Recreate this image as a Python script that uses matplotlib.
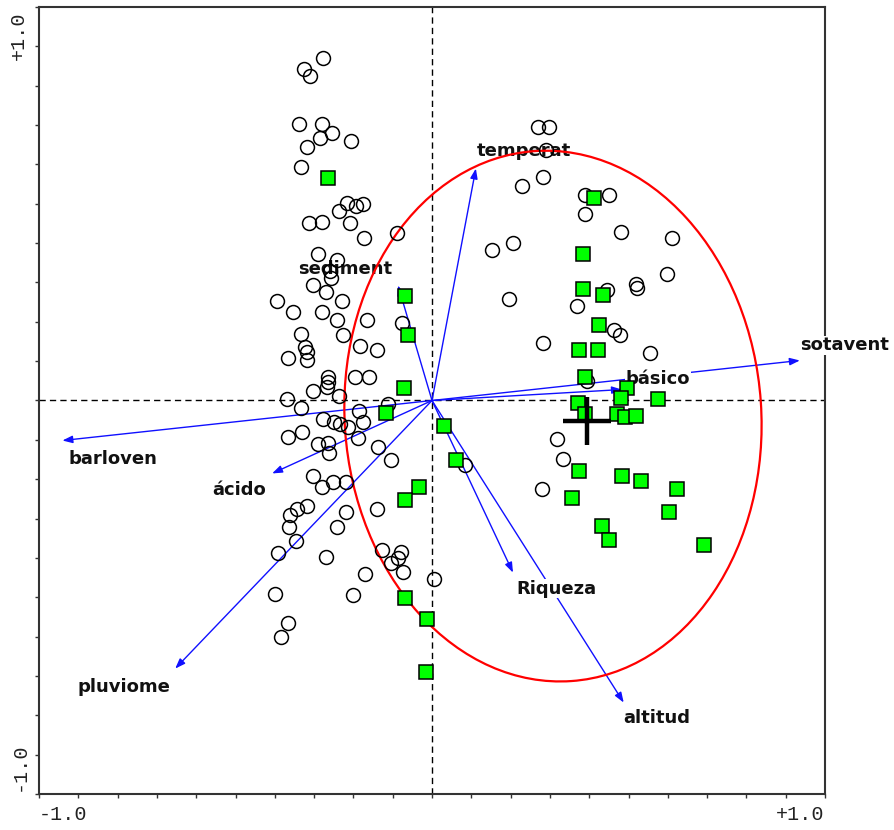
import matplotlib
matplotlib.use("Agg")
import matplotlib.pyplot as plt
from matplotlib.patches import Ellipse
import numpy as np

# environmental variables (arrow tips)
env_names = ["temperat", "sediment", "sotavent", "básico", "barloven",
             "ácido", "pluviome", "Riqueza", "altitud"]
env_x = [0.124, -0.096, 1.040, 0.537, -1.045, -0.452, -0.726, 0.229, 0.542]
env_y = [0.655, 0.325, 0.113, 0.031, -0.113, -0.206, -0.757, -0.486, -0.853]

# samples outside the group (open circles)
circ_x = [-0.362, -0.345, -0.308, -0.376, -0.311, -0.282, -0.316, -0.353, -0.229, -0.370,
          -0.240, -0.195, -0.215, -0.263, -0.347, -0.311, -0.232, -0.192, -0.099,
          -0.322, -0.268, -0.288, -0.285, -0.336, -0.299, -0.438, -0.254, -0.393, -0.311,
          -0.184, -0.268, -0.085, -0.370, -0.251, -0.359, -0.353, -0.353, -0.407, -0.203,
          -0.155, -0.294, -0.294, -0.297, -0.218, -0.178, -0.336, -0.263, -0.410, -0.370,
          -0.124, -0.206, -0.308, -0.277, -0.260, -0.195, -0.237, -0.407, -0.367, -0.209,
          -0.322, -0.294, -0.291, -0.153, -0.116, -0.336, -0.311, -0.280, -0.243, -0.353,
          -0.381, -0.401, -0.404, -0.384, -0.435, -0.243, -0.155, -0.268, -0.299, -0.141,
          -0.088, -0.096, -0.116, -0.082, -0.189, -0.223, -0.444, -0.407, -0.427, 0.006,
          0.299, 0.331, 0.322, 0.314, 0.254, 0.432, 0.500, 0.432, 0.534, 0.678, 0.229,
          0.169, 0.664, 0.576, 0.579, 0.494, 0.218, 0.410, 0.514, 0.531, 0.314, 0.616,
          0.438, 0.353, 0.370, 0.311, 0.093]
circ_y = [0.935, 0.915, 0.966, 0.780, 0.780, 0.754, 0.740, 0.715, 0.734, 0.658,
          0.559, 0.556, 0.548, 0.534, 0.500, 0.503, 0.500, 0.458, 0.472,
          0.415, 0.398, 0.367, 0.347, 0.325, 0.305, 0.280, 0.282, 0.249, 0.251,
          0.226, 0.226, 0.218, 0.189, 0.186, 0.150, 0.136, 0.113, 0.121, 0.153,
          0.144, 0.065, 0.051, 0.037, 0.065, 0.065, 0.028, 0.014, 0.003, -0.020,
          -0.011, -0.031, -0.051, -0.062, -0.065, -0.062, -0.076, -0.102, -0.090, -0.105,
          -0.124, -0.119, -0.147, -0.130, -0.167, -0.212, -0.243, -0.229, -0.229, -0.297,
          -0.305, -0.322, -0.356, -0.398, -0.432, -0.314, -0.305, -0.356, -0.441, -0.421,
          -0.429, -0.446, -0.460, -0.483, -0.489, -0.548, -0.545, -0.627, -0.667, -0.503,
          0.771, 0.771, 0.706, 0.630, 0.607, 0.579, 0.579, 0.528, 0.475, 0.458, 0.444,
          0.424, 0.356, 0.328, 0.319, 0.311, 0.288, 0.266, 0.198, 0.186, 0.161, 0.133,
          0.056, -0.110, -0.164, -0.251, -0.181]

# samples of the group (green squares)
sq_x = [-0.294, 0.458, 0.427, 0.427, 0.483, -0.076, -0.068, 0.472, 0.415, 0.469,
        -0.079, -0.130, 0.432, 0.551, 0.534, 0.638, 0.412, 0.432, 0.523, 0.545,
        0.576, 0.034, 0.068, -0.037, -0.076, 0.415, 0.537, 0.590, 0.692, 0.395,
        0.669, 0.480, 0.500, 0.768, -0.076, -0.014, -0.017]
sq_y = [0.627, 0.573, 0.415, 0.314, 0.299, 0.294, 0.186, 0.212, 0.144, 0.144,
        0.034, -0.034, 0.065, 0.034, 0.008, 0.003, -0.006, -0.037, -0.037, -0.048,
        -0.045, -0.073, -0.167, -0.243, -0.282, -0.198, -0.212, -0.226, -0.251, -0.274,
        -0.316, -0.353, -0.395, -0.407, -0.559, -0.616, -0.768]

centroid = (0.438, -0.059)
ell_center = (0.342, -0.044)
ell_width, ell_height, ell_angle = 1.178, 1.50, 4

# label offsets in pixels (layout only)
label_dx = [48, -53, 45, 36, 51, -33, -51, 43, 33]
label_dy = [18, 16, 15, 11, -18, -17, -18, -16, -15]

fig = plt.figure(figsize=(8.94, 8.30), dpi=100)
ax = fig.add_axes([39/894, 36/830, 786/894, 787/830])
lim = 10/9
ax.set_xlim(-lim, lim)
ax.set_ylim(-lim, lim)

ax.axhline(0, color="black", lw=1, ls=(0, (4.5, 3)), zorder=1)
ax.axvline(0, color="black", lw=1, ls=(0, (4.5, 3)), zorder=1)

for name, x, y, dx, dy in zip(env_names, env_x, env_y, label_dx, label_dy):
    ax.annotate("", xy=(x, y), xytext=(0, 0),
                arrowprops=dict(arrowstyle="-|>,head_length=0.6,head_width=0.22",
                                color="#1010ff", lw=1, shrinkA=0, shrinkB=0),
                zorder=2)
    ax.annotate(name, xy=(x, y), xytext=(dx, dy), textcoords="offset pixels",
                ha="center", va="center", fontsize=13, fontweight="bold",
                color="#111111", family="DejaVu Sans",
                bbox=dict(facecolor="white", edgecolor="none", pad=0.5),
                zorder=3)

ell = Ellipse(ell_center, ell_width, ell_height, angle=ell_angle,
              fill=False, edgecolor="#ff0000", lw=1.6, zorder=4)
ax.add_patch(ell)

ax.plot(circ_x, circ_y, "o", ms=10, mfc="none", mec="black", mew=1.1, zorder=5)
ax.plot(sq_x, sq_y, "s", ms=9.5, mfc="#00ff00", mec="black", mew=1.1, zorder=6)
ax.plot(*centroid, "+", ms=34, mew=3.2, color="black", zorder=7)

ticks = np.arange(-10, 11) / 9
ax.set_xticks(ticks)
ax.set_yticks(ticks)
ax.tick_params(direction="out", length=3, width=1, color="#333333",
               labelbottom=False, labelleft=False)
for s in ax.spines.values():
    s.set_color("#333333")
    s.set_linewidth(1.5)

mono = dict(family="Liberation Mono", fontsize=14.5, color="#222222")
fig.text(39/894, 1 - 805/830, "-1.0", ha="left", va="top", **mono)
fig.text(824/894, 1 - 805/830, "+1.0", ha="right", va="top", **mono)
fig.text(18.5/894, 1 - 11/830, "+1.0", ha="center", va="top", rotation=90, **mono)
fig.text(19.5/894, 1 - 791/830, "-1.0", ha="center", va="bottom", rotation=90, **mono)

fig.savefig("out.png", dpi=100)
